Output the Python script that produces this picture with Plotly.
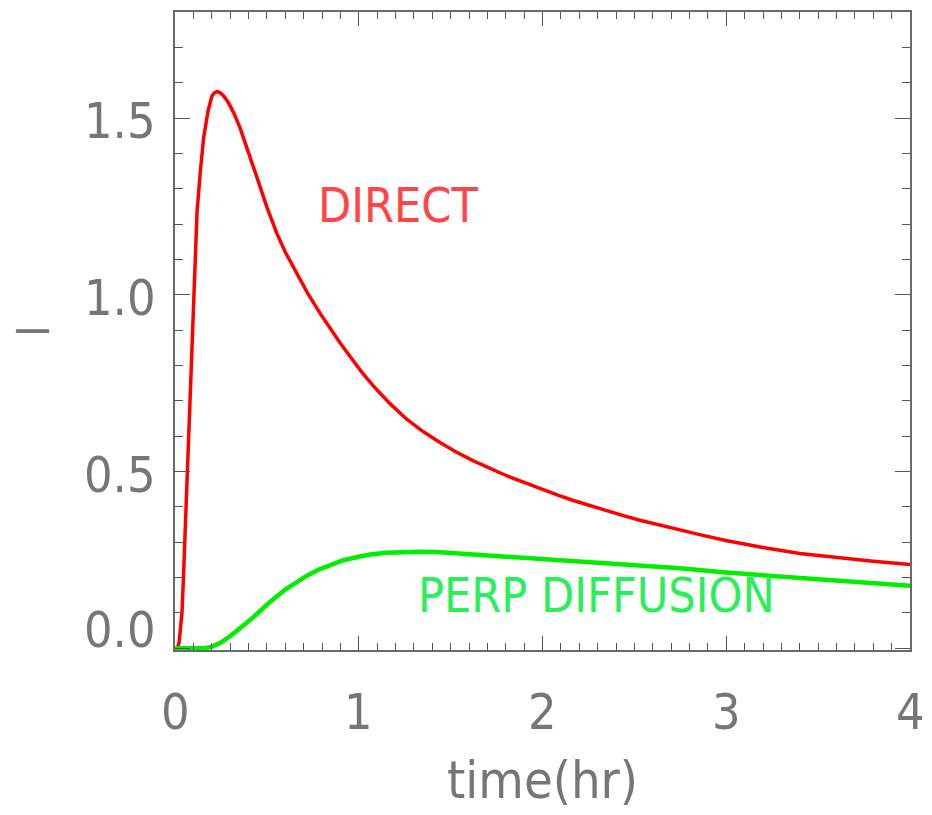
import plotly.graph_objects as go

# Direct component of intensity vs time (hr)
direct_time = [0.0, 0.012, 0.022, 0.03, 0.038, 0.046, 0.053, 0.059, 0.065, 0.071,
               0.078, 0.085, 0.096, 0.107, 0.12, 0.138, 0.156, 0.18, 0.201, 0.215,
               0.23, 0.25, 0.27, 0.29, 0.32, 0.354, 0.40, 0.444, 0.50, 0.553,
               0.60, 0.662, 0.72, 0.789, 0.85, 0.898, 0.952, 1.015, 1.079, 1.17,
               1.261, 1.35, 1.442, 1.53, 1.624, 1.715, 1.805, 1.9, 1.986, 2.08,
               2.168, 2.26, 2.35, 2.44, 2.53, 2.676, 2.85, 2.997, 3.2, 3.4,
               3.6, 3.8, 4.0]
direct_I = [0.0, 0.0, 0.015, 0.05, 0.10, 0.20, 0.30, 0.40, 0.50, 0.60,
            0.70, 0.80, 0.96, 1.10, 1.235, 1.35, 1.445, 1.52, 1.562, 1.572,
            1.575, 1.57, 1.559, 1.544, 1.514, 1.472, 1.405, 1.335, 1.248, 1.175,
            1.121, 1.060, 1.006, 0.948, 0.900, 0.8645, 0.826, 0.782, 0.742, 0.692,
            0.648, 0.613, 0.582, 0.555, 0.530, 0.508, 0.488, 0.469, 0.451, 0.434,
            0.418, 0.403, 0.389, 0.375, 0.362, 0.343, 0.322, 0.305, 0.285, 0.268,
            0.256, 0.246, 0.237]

# Perpendicular-diffusion component
perp_time = [0.0, 0.1, 0.16, 0.2, 0.25, 0.3, 0.35, 0.4, 0.45, 0.517,
             0.6, 0.662, 0.72, 0.789, 0.85, 0.916, 1.0, 1.061, 1.15, 1.243,
             1.33, 1.424, 1.605, 1.787, 1.968, 2.13, 2.3, 2.5, 2.75, 3.0,
             3.2, 3.4, 3.7, 4.0]
perp_I = [0.0, 0.0, 0.0, 0.004, 0.016, 0.034, 0.054, 0.076, 0.099, 0.131,
          0.166, 0.188, 0.206, 0.224, 0.237, 0.249, 0.259, 0.265, 0.270, 0.272,
          0.273, 0.272, 0.266, 0.259, 0.253, 0.249, 0.244, 0.237, 0.226, 0.214,
          0.206, 0.199, 0.188, 0.177]

x_tick_values = [0, 1, 2, 3, 4]
x_tick_labels = ["0", "1", "2", "3", "4"]
y_tick_values = [0.0, 0.5, 1.0, 1.5]
y_tick_labels = ["0.0", "0.5", "1.0", "1.5"]

series_labels = ["DIRECT", "PERP DIFFUSION"]
label_pos = [(1.214, 1.255), (2.295, 0.152)]

FONT = "DejaVu Sans Condensed, Liberation Sans Narrow, sans-serif"
GREY = "#767676"
AXIS = "#6a6a6a"
RED = "#ff0000"
GREEN = "#00ee00"

fig = go.Figure()
fig.add_trace(go.Scatter(x=direct_time, y=direct_I, mode="lines",
                         line=dict(color=RED, width=3.5), showlegend=False))
fig.add_trace(go.Scatter(x=perp_time, y=perp_I, mode="lines",
                         line=dict(color=GREEN, width=4.5), showlegend=False))

annotations = []
for v, t in zip(x_tick_values, x_tick_labels):
    annotations.append(dict(x=v, xref="x", y=0, yref="paper", text=t, showarrow=False,
                            xanchor="center", yanchor="middle", yshift=-62,
                            font=dict(family=FONT, size=50, color=GREY)))
for v, t in zip(y_tick_values, y_tick_labels):
    annotations.append(dict(x=0, xref="paper", y=v, yref="y", text=t, showarrow=False,
                            xanchor="right", yanchor="middle", xshift=-17,
                            yshift=(18 if v == 0 else -3),
                            font=dict(family=FONT, size=50, color=GREY)))
# axis titles
annotations.append(dict(x=0.5, xref="paper", y=0, yref="paper", text="time(hr)",
                        showarrow=False, xanchor="center", yanchor="middle", yshift=-130,
                        font=dict(family=FONT, size=52, color=GREY)))
annotations.append(dict(x=0, xref="paper", y=0.5, yref="paper", text="I", textangle=-90,
                        showarrow=False, xanchor="center", yanchor="middle", xshift=-142,
                        font=dict(family=FONT, size=44, color=GREY)))
# curve labels
for (lx, ly), text, col in zip(label_pos, series_labels, ["#ff4545", "#2aee5a"]):
    annotations.append(dict(x=lx, y=ly, xref="x", yref="y", text=text, showarrow=False,
                            xanchor="center", yanchor="middle",
                            font=dict(family=FONT, size=48, color=col)))

axis_common = dict(showline=True, linecolor=AXIS, linewidth=1.5, mirror="ticks",
                   ticks="inside", tickcolor="#555555", tickwidth=1.3,
                   showgrid=False, zeroline=False, showticklabels=False)

fig.update_layout(
    width=932, height=815,
    margin=dict(l=175, r=22, t=10, b=165),
    paper_bgcolor="white", plot_bgcolor="white",
    xaxis=dict(range=[0, 4], tickvals=x_tick_values, ticklen=14,
               minor=dict(dtick=0.1, ticks="inside", ticklen=7, tickcolor="#555555",
                          tickwidth=1.2, showgrid=False),
               **axis_common),
    yaxis=dict(range=[-0.005, 1.8], tickvals=y_tick_values, ticklen=15,
               minor=dict(dtick=0.1, ticks="inside", ticklen=8, tickcolor="#555555",
                          tickwidth=1.2, showgrid=False),
               **axis_common),
    annotations=annotations,
)

fig.write_html("out.html")
